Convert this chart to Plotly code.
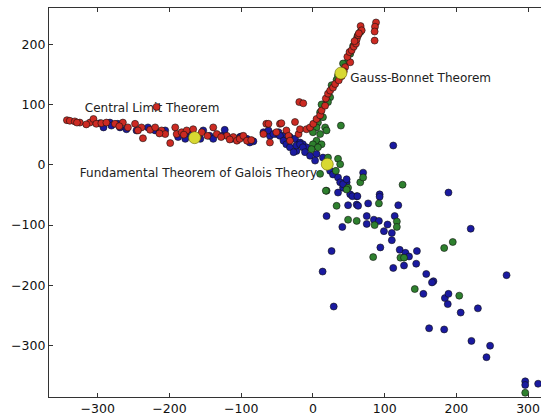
import plotly.graph_objects as go

# ---- data ----
red_x = [-343, -339, -332, -325, -311, -306, -302, -295, -288, -276, -265, -258, -248, -239, -237,
         -227, -220, -211, -206, -199, -192, -190, -183, -176, -167, -160, -155, -139, -134, -120,
         -111, -106, -102, -97, -92, -65, -60, -46, -37, -34, -25, -20, -18, -62, -44, -69, -51,
         -32, -218, -19, -13.5, -9, -4, 0.5, 5, 10, 12, 17, 18, 21, 24, 28, 31, 45, 52, 48, 51,
         54, 57, 60, 61, 63, 66.5, 68, 88, 86.5, 86, 86, -329, -316, -270, -244, -214, -180,
         -147, -128, -116, -86, 36, 40, 43, 58, 64]
red_y = [74, 73, 72, 70, 70, 76, 68, 69, 70, 68, 70, 62, 68, 62, 44,
         58, 62, 57, 51, 36, 62, 51, 54, 57, 59, 47, 54, 62, 51, 48,
         46, 40, 43, 48, 40, 68, 37, 68, 57, 48, 71, 51, 59, 68, 69, 51, 54,
         40, 96, 104, 102, 59, 62, 68, 76, 82, 90, 98, 110, 118, 123, 128, 134, 162, 170, 179, 187,
         190, 196, 201, 208, 215, 230, 223, 236, 229, 221, 206, 70, 67, 64, 57, 52, 50,
         48, 46, 42, 41, 140, 147, 155, 205, 218]

green_x = [66, 62, 59, 56, 52, 49, 42, 40, 35, 33, 26, 24, 19, 12, 21, 10, 14, 7, 17, 5, 0,
           10, 5, 0, 12, 7, 19, 39, -2, 21, 35, 38, 32, 10, 66, 70, 19, 49, 18, 125, 33, 47,
           92, 49, 61, 86, 117, 117, 84, 122, 127, 142, 183, 195, 204, 296]
green_y = [220, 213, 204, 197, 184, 172, 168, 154, 148, 141, 132, 112, 107, 100, 104, 87, 79, 70,
           62, 62, 54, 51, 40, 34, 34, 29, 57, 65, 26, 12, 10, 1, -10, -15, -29, -21, -43, -38,
           -43, -33, -68, -41, -64, -91, -93, -100, -94, -103, -153, -154, -154, -206, -138, -128,
           -217, -378]

blue_x = [-297, -292, -283, -281, -272, -269, -260, -246, -230, -220, -213, -206, -188, -174,
          -169, -153, -144, -139, -127, -123, -113, -102, -92, -83, -60, -51, -41, -32, -25, -18,
          -14, -9, -23, -88, -69, -62, -55, -48, -46, -41, -37, -32, -23, -18, -14, -11, -4, 5,
          14, 3, -27, 24, 28, 35, 38, 47, 42, 35, 52, 61, 70, 93, 112, 19, 41, 26, 13.5, 29, 49,
          55, 62, 61, 63, 77, 93, 75, 75, 85, 92, 104, 99, 110, 110, 114, 119, 94, 121, 129, 134,
          127, 112, 145, 144, 158, 168, 166, 154, 184, 189, 188, 206, 230, 162, 183, 221, 247,
          242, 270, 189, 220, 296, 296, 314, 42, 47, -178, -157, -100]
blue_y = [69, 62, 70, 65, 68, 62, 59, 57, 62, 57, 54, 57, 46, 48,
          51, 57, 48, 43, 48, 58, 43, 46, 43, 39, 48, 51, 48, 46, 43, 37,
          34, 29, 23, 37, 54, 57, 51, 54, 48, 40, 34, 29, 32, 34, 29, 21, 15, 18,
          12, 7, 21, -10, -16, -21, -29, -29, -38, -46, -49, -52, -13, -49, 32, -85, -103, -143,
          -177, -235, -67, -52, -52, -66, -68, -64, -53, -85, -98, -91, -93, -99, -110, -113,
          -125, -85, -67, -137, -141, -146, -152, -167, -171, -143, -164, -181, -193, -195,
          -214, -221, -214, -231, -245, -238, -271, -273, -292, -300, -319, -183, -46, -106,
          -359, -365, -363, -32, -24, 43, 43, 47]

center_x = [-165, 39, 20]
center_y = [45, 152, 1]

label_text = ["Central Limit Theorem", "Gauss-Bonnet Theorem",
              "Fundamental Theorem of Galois Theory"]
label_x = [-318, 52, -325]
label_y = [93, 142, -16]

x_ticks = [-300, -200, -100, 0, 100, 200, 300]
y_ticks = [-300, -200, -100, 0, 100, 200]

# ---- figure ----
fig = go.Figure()

fig.add_trace(go.Scatter(
    x=label_x, y=label_y, text=label_text, mode="text",
    textposition="middle right",
    textfont=dict(family="DejaVu Sans", size=12, color="#222222"),
    hoverinfo="skip", showlegend=False))

edge = dict(color="#111111", width=0.6)
fig.add_trace(go.Scatter(x=blue_x, y=blue_y, mode="markers", showlegend=False,
                         marker=dict(size=7, color="#1a1aa0", line=edge)))
fig.add_trace(go.Scatter(x=green_x, y=green_y, mode="markers", showlegend=False,
                         marker=dict(size=7, color="#2e802e", line=edge)))
fig.add_trace(go.Scatter(x=red_x, y=red_y, mode="markers", showlegend=False,
                         marker=dict(size=7, color="#cc2a22", line=edge)))
fig.add_trace(go.Scatter(x=center_x, y=center_y, mode="markers", showlegend=False,
                         marker=dict(size=12, color="#d8d832", line=dict(color="#666600", width=0.6))))

axis_font = dict(family="DejaVu Sans", size=12.5, color="#111111")
fig.update_layout(
    width=541, height=415,
    margin=dict(l=49, r=0, t=8, b=18),
    paper_bgcolor="white", plot_bgcolor="white",
    showlegend=False,
    xaxis=dict(range=[-368, 318], tickvals=x_ticks,
               ticktext=[str(v).replace("-", "\u2212") for v in x_ticks],
               showgrid=False, zeroline=False, showline=True, linecolor="#333333",
               linewidth=1.2, mirror="ticks", ticks="inside", ticklen=4,
               tickcolor="#333333", tickfont=axis_font, automargin=False),
    yaxis=dict(range=[-385, 260], tickvals=y_ticks,
               ticktext=[str(v).replace("-", "\u2212") for v in y_ticks],
               showgrid=False, zeroline=False, showline=True, linecolor="#333333",
               linewidth=1.2, mirror=False, ticks="inside", ticklen=4,
               tickcolor="#333333", tickfont=axis_font, automargin=False),
)

fig.write_html("out.html", config={"displayModeBar": False},
               post_script="document.body.style.margin='0';")
